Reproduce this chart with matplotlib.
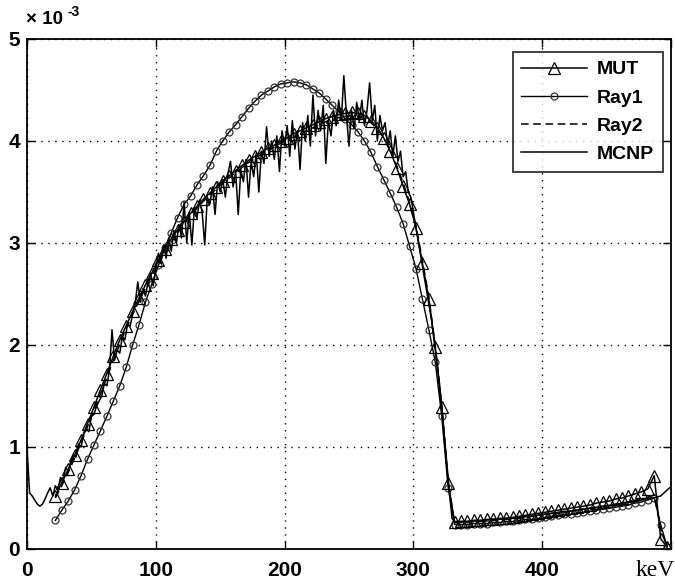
import numpy as np
import matplotlib
matplotlib.use("Agg")
import matplotlib.pyplot as plt

# ---- data (values in units of 1e-3) ----
E = np.arange(22, 498, 5)  # energy grid of MUT / Ray1 / Ray2 (keV)

mut = [0.52, 0.65, 0.78, 0.92, 1.07, 1.23, 1.39, 1.56, 1.72, 1.89,
       2.05, 2.19, 2.33, 2.46, 2.59, 2.71, 2.83, 2.94, 3.04, 3.13,
       3.21, 3.29, 3.36, 3.43, 3.49, 3.55, 3.61, 3.66, 3.71, 3.76,
       3.81, 3.85, 3.89, 3.93, 3.96, 4.00, 4.03, 4.07, 4.10, 4.13,
       4.16, 4.19, 4.22, 4.24, 4.26, 4.27, 4.28, 4.27, 4.25, 4.20,
       4.13, 4.03, 3.90, 3.74, 3.56, 3.38, 3.15, 2.80, 2.45, 1.98,
       1.39, 0.65, 0.26, 0.27, 0.27, 0.28, 0.28, 0.29, 0.29, 0.30,
       0.30, 0.31, 0.32, 0.33, 0.34, 0.35, 0.36, 0.37, 0.38, 0.39,
       0.40, 0.41, 0.42, 0.43, 0.45, 0.46, 0.47, 0.49, 0.50, 0.52,
       0.54, 0.56, 0.59, 0.72, 0.10, 0.02]

ray1 = [0.28, 0.38, 0.47, 0.58, 0.72, 0.88, 1.02, 1.16, 1.30, 1.45,
        1.60, 1.78, 2.00, 2.20, 2.42, 2.60, 2.78, 2.95, 3.10, 3.25,
        3.38, 3.46, 3.57, 3.66, 3.76, 3.90, 4.00, 4.09, 4.16, 4.24,
        4.32, 4.39, 4.45, 4.49, 4.53, 4.56, 4.57, 4.58, 4.57, 4.55,
        4.51, 4.47, 4.41, 4.35, 4.29, 4.22, 4.16, 4.09, 4.00, 3.89,
        3.75, 3.62, 3.49, 3.35, 3.19, 2.97, 2.75, 2.45, 2.15, 1.83,
        1.30, 0.60, 0.24, 0.24, 0.24, 0.25, 0.25, 0.25, 0.26, 0.26,
        0.27, 0.27, 0.28, 0.29, 0.29, 0.30, 0.31, 0.32, 0.33, 0.34,
        0.34, 0.35, 0.36, 0.37, 0.38, 0.39, 0.40, 0.41, 0.42, 0.43,
        0.45, 0.46, 0.48, 0.50, 0.24, 0.02]

ray2 = [0.50, 0.62, 0.75, 0.89, 1.04, 1.20, 1.36, 1.52, 1.68, 1.85,
        2.01, 2.16, 2.30, 2.43, 2.56, 2.68, 2.80, 2.91, 3.01, 3.10,
        3.19, 3.27, 3.34, 3.41, 3.47, 3.53, 3.59, 3.64, 3.69, 3.74,
        3.79, 3.83, 3.87, 3.91, 3.94, 3.98, 4.01, 4.04, 4.07, 4.10,
        4.13, 4.16, 4.19, 4.21, 4.23, 4.24, 4.25, 4.24, 4.22, 4.18,
        4.12, 4.03, 3.91, 3.76, 3.59, 3.40, 3.17, 2.83, 2.47, 1.99,
        1.40, 0.66, 0.26, 0.26, 0.26, 0.27, 0.27, 0.28, 0.28, 0.29,
        0.29, 0.30, 0.30, 0.31, 0.32, 0.33, 0.34, 0.35, 0.35, 0.36,
        0.37, 0.38, 0.39, 0.40, 0.41, 0.42, 0.43, 0.44, 0.45, 0.46,
        0.48, 0.49, 0.51, 0.53, 0.20, 0.02]

mcnp_E = np.r_[np.arange(0, 334, 2), np.arange(336, 499, 6), [500]]
mcnp = [1.00, 0.55, 0.52, 0.48, 0.44, 0.42, 0.44, 0.49, 0.55, 0.60,   # 0-18
        0.52, 0.62, 0.58, 0.70, 0.66, 0.80, 0.76, 0.86, 0.92, 0.90,   # 20-38
        1.03, 1.00, 1.12, 1.18, 1.15, 1.30, 1.32, 1.40, 1.45, 1.50,   # 40-58
        1.62, 1.60, 1.75, 2.15, 1.85, 1.95, 1.92, 2.08, 2.05, 2.20,   # 60-78
        2.18, 2.30, 2.40, 2.62, 2.42, 2.55, 2.48, 2.62, 2.70, 2.58,   # 80-98
        2.75, 2.90, 2.80, 2.98, 2.85, 3.05, 2.92, 3.12, 3.00, 3.18,   # 100-118
        3.05, 3.40, 3.00, 3.30, 2.98, 3.35, 3.25, 3.42, 3.30, 2.98,   # 120-138
        3.45, 3.38, 3.55, 3.28, 3.60, 3.50, 3.62, 3.45, 3.68, 3.80,   # 140-158
        3.55, 3.70, 3.28, 3.72, 3.60, 3.82, 3.45, 3.80, 3.65, 3.88,   # 160-178
        3.50, 3.90, 3.78, 4.14, 3.85, 4.00, 3.82, 4.05, 3.70, 4.10,   # 180-198
        3.95, 4.15, 3.85, 4.20, 3.92, 4.10, 3.72, 4.18, 4.00, 4.25,   # 200-218
        3.95, 4.45, 4.05, 4.30, 4.10, 4.35, 3.78, 4.20, 4.05, 4.30,   # 220-238
        4.15, 4.40, 4.20, 4.64, 4.25, 3.95, 4.30, 4.12, 4.38, 4.20,   # 240-258
        4.40, 4.15, 4.30, 4.57, 4.20, 4.35, 4.00, 4.25, 4.10, 4.18,   # 260-278
        3.95, 4.10, 3.85, 4.05, 3.80, 3.90, 3.65, 3.70, 3.50, 3.45,   # 280-298
        3.30, 3.15, 3.00, 2.85, 2.70, 2.55, 2.40, 2.25, 2.05, 1.85,   # 300-318
        1.65, 1.40, 1.12, 0.85, 0.55, 0.30, 0.27,                     # 320-332
        0.27, 0.27, 0.28, 0.28, 0.29, 0.29, 0.30, 0.30, 0.31, 0.32,   # 336-390
        0.33, 0.34, 0.35, 0.36, 0.37, 0.38, 0.39, 0.40, 0.41, 0.42,   # 396-450
        0.43, 0.45, 0.46, 0.47, 0.49, 0.50, 0.52, 0.59, 0.61]         # 456-500

yticks = [0, 1, 2, 3, 4, 5]
xticks = [0, 100, 200, 300, 400, 500]
xticklabels = ["0", "100", "200", "300", "400", ""]
legend_labels = ["MUT", "Ray1", "Ray2", "MCNP"]

# ---- figure ----
W, H = 675, 580
fig = plt.figure(figsize=(W/100, H/100), dpi=100)
ax = fig.add_axes([27/W, 1-549/H, (671-27)/W, (549-39)/H])

ax.plot(E, mut, color="black", lw=1.1, marker="^", ms=8, mfc="none",
        mec="black", mew=0.9, label=legend_labels[0], zorder=4)
ax.plot(E, ray1, color="black", lw=1.0, marker="o", ms=5, mfc="none",
        mec="#333333", mew=0.9, label=legend_labels[1], zorder=3)
ax.plot(E, ray2, color="black", lw=1.1, ls=(0, (5, 3)),
        label=legend_labels[2], zorder=3)
ax.plot(mcnp_E, mcnp, color="black", lw=1.1, label=legend_labels[3], zorder=5)

ax.set_xlim(0, 500)
ax.set_ylim(0, 5)
ax.set_xticks(xticks)
ax.set_xticklabels(xticklabels)
ax.set_yticks(yticks)
ax.grid(True, color="black", ls=(0, (1, 4)), lw=1.0)
ax.tick_params(direction="in", top=True, right=True, length=6, width=1,
               labelsize=15)
ax.tick_params(axis="y", pad=5)
ax.tick_params(axis="x", pad=9)
for lab in ax.get_xticklabels() + ax.get_yticklabels():
    lab.set_fontfamily("Liberation Sans")
    lab.set_fontweight("bold")
for s in ax.spines.values():
    s.set_linewidth(1.3)

# exponent label "x 10^-3"
fig.text(26/W, 1-24/H, "\u00d7 10", ha="left", va="baseline", fontsize=13.5,
         fontfamily="Liberation Sans", fontweight="bold")
fig.text(68/W, 1-16/H, "-3", ha="left", va="baseline", fontsize=10,
         fontfamily="Liberation Sans", fontweight="bold")

ax.text((655-27)/644, -0.022, "keV", transform=ax.transAxes, ha="center",
        va="top", fontsize=17, fontfamily="Liberation Serif")

leg = ax.legend(loc="upper right", bbox_to_anchor=((663-27)/644, 1-(52-39)/510),
                borderaxespad=0.0, frameon=True, fancybox=False,
                edgecolor="black", handlelength=3.4, handletextpad=0.5,
                borderpad=0.45, labelspacing=0.55,
                prop={"family": "Liberation Sans", "weight": "bold", "size": 14})
leg.get_frame().set_linewidth(1.3)
leg.set_zorder(10)

fig.savefig("out.png", dpi=100)
